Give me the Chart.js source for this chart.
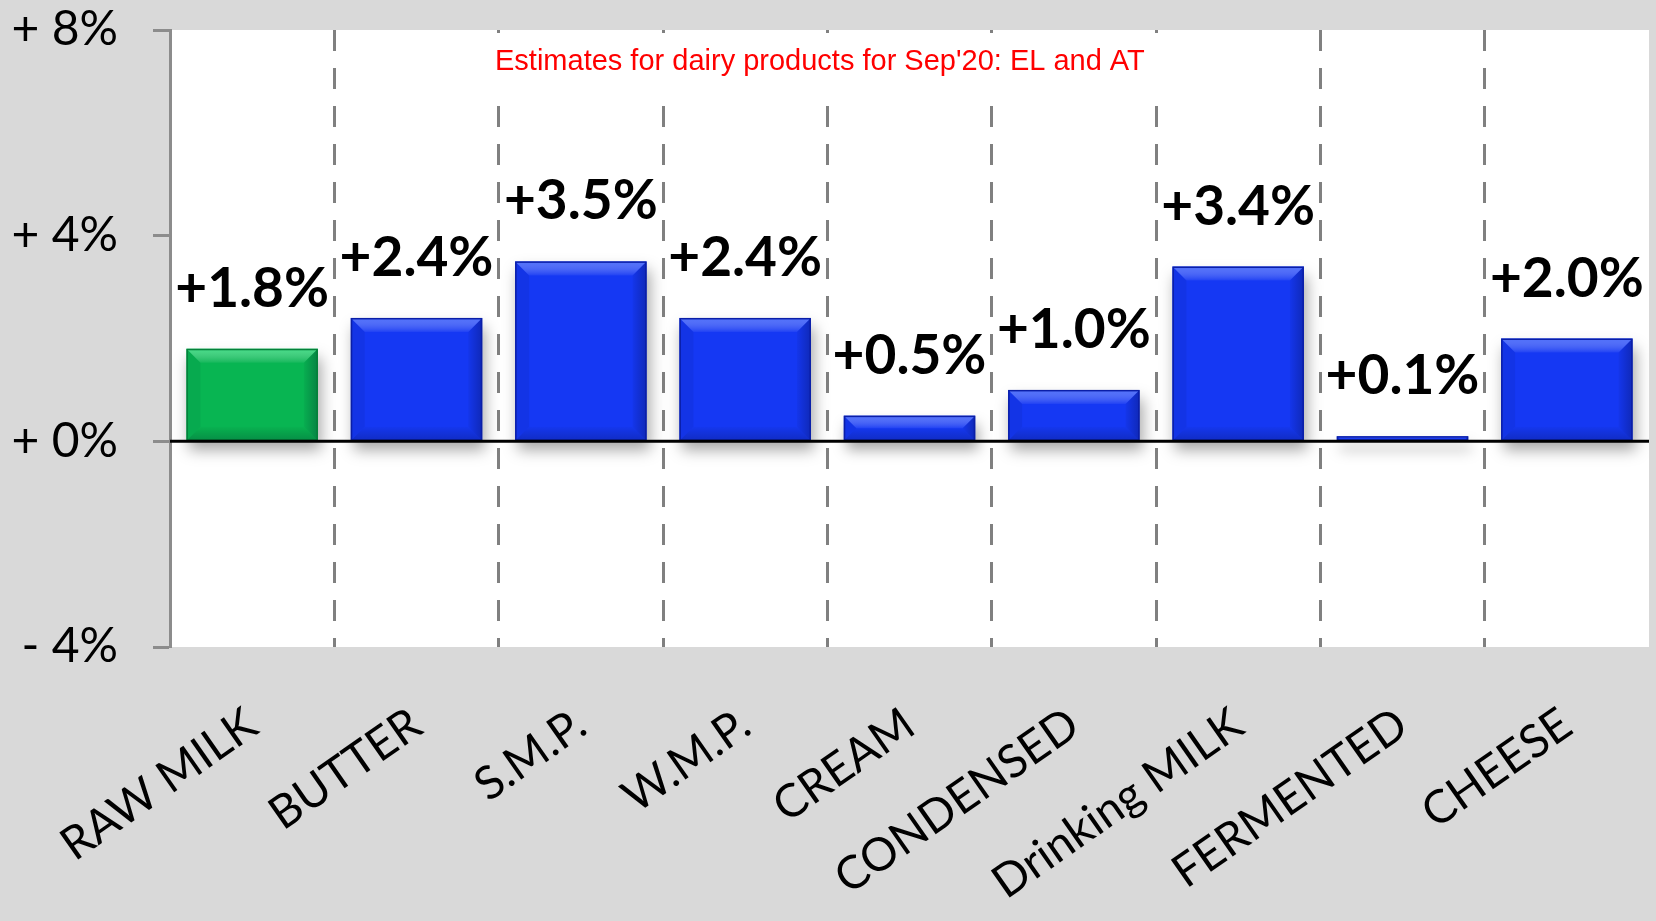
<!DOCTYPE html>
<html>
<head>
<meta charset="utf-8">
<script src="https://cdn.jsdelivr.net/npm/chart.js@4.4.1/dist/chart.umd.min.js"></script>
<style>
  html, body { margin: 0; padding: 0; background: #d9d9d9; }
  canvas { display: block; }
</style>
</head>
<body>
<canvas id="canvas" width="1656" height="921"></canvas>
<script>
const categories = ['RAW MILK', 'BUTTER', 'S.M.P.', 'W.M.P.', 'CREAM', 'CONDENSED', 'Drinking MILK', 'FERMENTED', 'CHEESE'];
const changes = [1.8, 2.4, 3.5, 2.4, 0.5, 1.0, 3.4, 0.1, 2.0];
const yTicks = [-4, 0, 4, 8];
const highlighted = 'RAW MILK';
const titleText = "Estimates for dairy products for Sep'20: EL and AT";

const GREEN = { base: '#08b552', light: 'rgba(120,255,180,0.55)', dark: '#04803a' };
const BLUE = { base: '#1538f3', light: 'rgba(120,150,255,0.6)', dark: '#0a1ea8' };
const palette = categories.map(c => c === highlighted ? GREEN : BLUE);

const fmtTick = v => (v < 0 ? '- ' + Math.abs(v) : '+ ' + v) + '%';
const fmtValue = v => (v >= 0 ? '+' : '') + v.toFixed(1) + '%';

// white plot background
const plotBg = {
  id: 'plotBg',
  beforeDraw(chart) {
    const { ctx, chartArea: a } = chart;
    ctx.save();
    ctx.fillStyle = '#ffffff';
    ctx.fillRect(a.left, a.top, a.right - a.left, a.bottom - a.top);
    ctx.restore();
  }
};

// soft drop shadow under the bars
const barShadow = {
  id: 'barShadow',
  beforeDatasetsDraw(chart) {
    const ctx = chart.ctx;
    ctx.save();
    ctx.shadowColor = 'rgba(0,0,0,0.35)';
    ctx.shadowBlur = 14;
    ctx.shadowOffsetX = 3;
    ctx.shadowOffsetY = 9;
  },
  afterDatasetsDraw(chart) {
    chart.ctx.restore();
  }
};

function poly(ctx, pts) {
  ctx.beginPath();
  ctx.moveTo(pts[0][0], pts[0][1]);
  for (let i = 1; i < pts.length; i++) ctx.lineTo(pts[i][0], pts[i][1]);
  ctx.closePath();
  ctx.fill();
}

// bevel look + value labels
const bevelAndLabels = {
  id: 'bevelAndLabels',
  afterDatasetsDraw(chart) {
    const ctx = chart.ctx;
    const meta = chart.getDatasetMeta(0);
    meta.data.forEach((el, i) => {
      const p = el.getProps(['x', 'y', 'base', 'width'], true);
      const l = p.x - p.width / 2, r = p.x + p.width / 2;
      const t = Math.min(p.y, p.base), b = Math.max(p.y, p.base);
      const s = Math.min(14, (b - t) / 2, (r - l) / 2);
      const col = palette[i];
      ctx.save();
      // top bevel
      let g = ctx.createLinearGradient(0, t, 0, t + s);
      g.addColorStop(0, col.light);
      g.addColorStop(1, 'rgba(255,255,255,0.05)');
      ctx.fillStyle = g;
      poly(ctx, [[l, t], [r, t], [r - s, t + s], [l + s, t + s]]);
      // bottom bevel
      g = ctx.createLinearGradient(0, b - s, 0, b);
      g.addColorStop(0, 'rgba(0,0,0,0.02)');
      g.addColorStop(1, 'rgba(0,0,30,0.22)');
      ctx.fillStyle = g;
      poly(ctx, [[l, b], [r, b], [r - s, b - s], [l + s, b - s]]);
      // left bevel
      ctx.fillStyle = 'rgba(0,0,40,0.06)';
      poly(ctx, [[l, t], [l + s, t + s], [l + s, b - s], [l, b]]);
      // right bevel
      g = ctx.createLinearGradient(r - s, 0, r, 0);
      g.addColorStop(0, 'rgba(0,0,30,0.04)');
      g.addColorStop(1, 'rgba(0,0,30,0.28)');
      ctx.fillStyle = g;
      poly(ctx, [[r, t], [r - s, t + s], [r - s, b - s], [r, b]]);
      // edge
      ctx.strokeStyle = col.dark;
      ctx.lineWidth = 1.5;
      ctx.strokeRect(l + 0.75, t + 0.75, r - l - 1.5, b - t - 1.5);
      ctx.restore();

      // value label
      ctx.save();
      ctx.font = 'bold 55px Lato';
      ctx.fillStyle = '#000';
      ctx.textAlign = 'center';
      ctx.textBaseline = 'alphabetic';
      ctx.fillText(fmtValue(changes[i]), p.x, p.y - 42);
      ctx.restore();
    });

    // zero line on top
    const y0 = chart.scales.y.getPixelForValue(0);
    const a = chart.chartArea;
    ctx.save();
    ctx.strokeStyle = '#000';
    ctx.lineWidth = 3;
    ctx.beginPath();
    ctx.moveTo(a.left, y0);
    ctx.lineTo(a.right, y0);
    ctx.stroke();
    ctx.restore();
  }
};

// title box inside the plot
const titleBox = {
  id: 'titleBox',
  beforeDatasetsDraw(chart) {
    const ctx = chart.ctx;
    const a = chart.chartArea;
    ctx.save();
    ctx.fillStyle = '#ffffff';
    ctx.fillRect(a.left + 318, a.top + 3, 676, 72);
    ctx.font = '29px "Liberation Sans", Arial, sans-serif';
    ctx.fillStyle = '#ff0000';
    ctx.textAlign = 'left';
    ctx.textBaseline = 'alphabetic';
    ctx.fillText(titleText, a.left + 325, a.top + 40);
    ctx.restore();
  }
};

function draw() {
  Chart.defaults.font.family = 'Lato';
  const canvas = document.getElementById('canvas');
  new Chart(canvas, {
    type: 'bar',
    data: {
      labels: categories,
      datasets: [{
        data: changes,
        backgroundColor: palette.map(c => c.base),
        borderWidth: 0,
        barPercentage: 0.8,
        categoryPercentage: 1.0
      }]
    },
    options: {
      responsive: false,
      animation: false,
      devicePixelRatio: 1,
      layout: { padding: { top: 30, right: 7, left: 0, bottom: 0 } },
      plugins: {
        legend: { display: false },
        tooltip: { enabled: false },
        title: { display: false }
      },
      scales: {
        x: {
          type: 'category',
          offset: true,
          afterFit(scale) { scale.height = 274; },
          grid: {
            offset: true,
            drawTicks: false,
            lineWidth: 3,
            // only the inner category boundaries are dashed
            color: ctx => (ctx.type !== 'tick' || !ctx.index) ? 'rgba(0,0,0,0)' : '#808080'
          },
          border: { display: false, dash: [21, 17] },
          ticks: {
            autoSkip: false,
            minRotation: 35,
            maxRotation: 35,
            padding: 50,
            color: '#000',
            font: { size: 46, family: 'Lato' }
          }
        },
        y: {
          min: -4,
          max: 8,
          afterFit(scale) {
            scale.width = 170;
            scale.paddingTop = 0;
            scale.paddingBottom = 0;
          },
          afterBuildTicks(scale) { scale.ticks = yTicks.map(v => ({ value: v })); },
          grid: {
            drawOnChartArea: false,
            tickLength: 17,
            tickColor: '#8c8c8c',
            tickWidth: 3
          },
          border: { display: true, color: '#8c8c8c', width: 3 },
          ticks: {
            padding: 35,
            color: '#000',
            font: { size: 48, family: 'Lato', lineHeight: 1.1 },
            callback: v => fmtTick(v)
          }
        }
      }
    },
    plugins: [plotBg, titleBox, barShadow, bevelAndLabels]
  });
}

Promise.all([
  document.fonts.load('48px Lato'),
  document.fonts.load('bold 55px Lato'),
  document.fonts.load('29px "Liberation Sans"')
]).then(draw, draw);
</script>
</body>
</html>
